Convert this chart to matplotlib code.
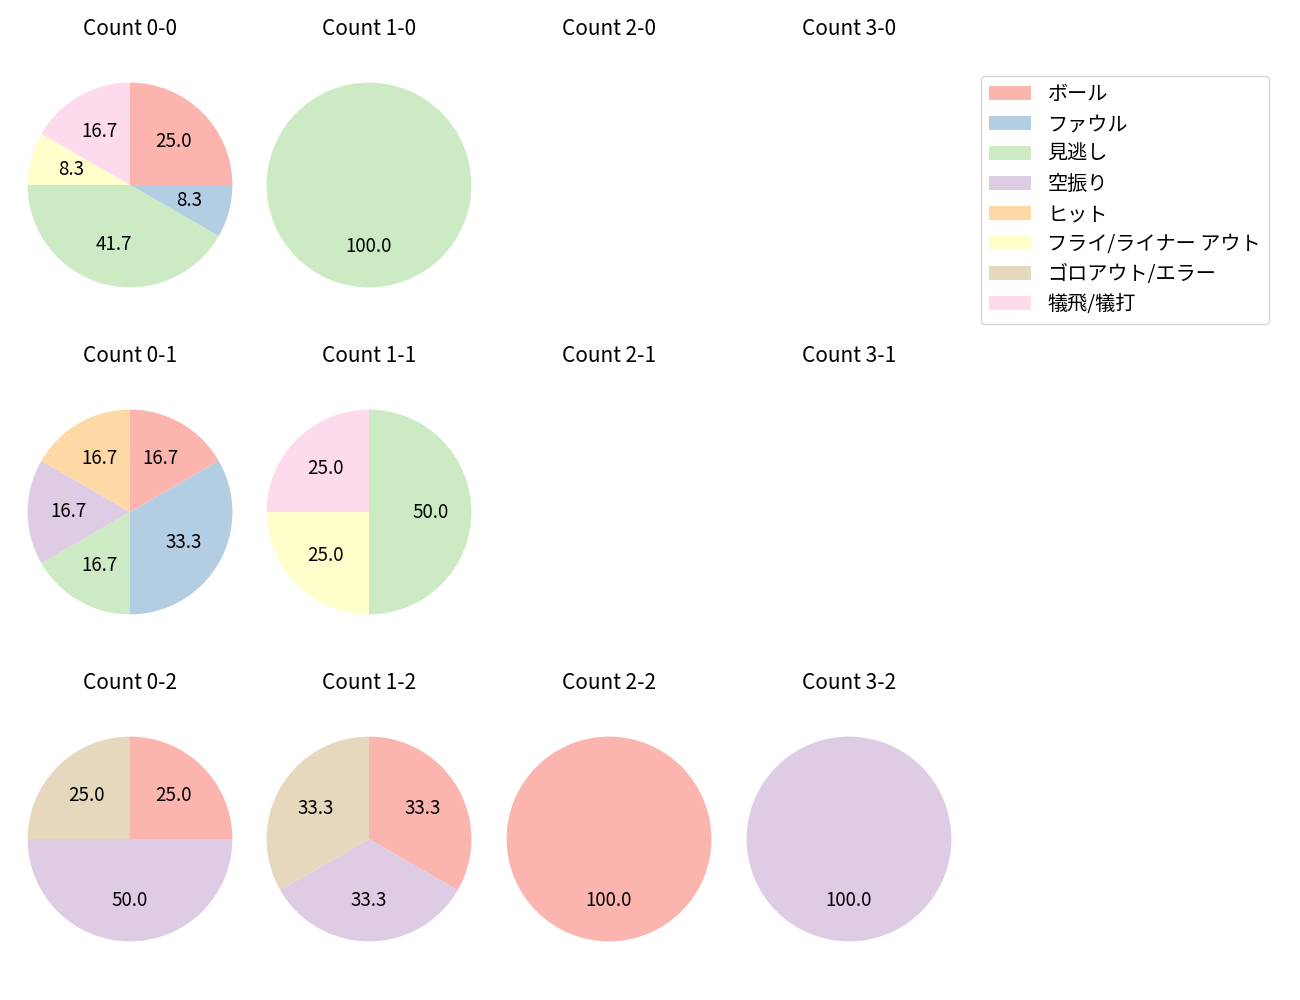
import matplotlib
matplotlib.use("Agg")
import matplotlib.pyplot as plt
from matplotlib.patches import Patch

plt.rcParams['font.family'] = ['Noto Sans CJK JP', 'DejaVu Sans']

categories = ["ボール", "ファウル", "見逃し", "空振り", "ヒット",
              "フライ/ライナー アウト", "ゴロアウト/エラー", "犠飛/犠打"]
colors = ["#fbb4ae", "#b3cde3", "#ccebc5", "#decbe4", "#fed9a6",
          "#ffffcc", "#e5d8bd", "#fddaec"]

# counts per ball-strike count, in category order
count_0_0 = [3, 1, 5, 0, 0, 1, 0, 2]
count_1_0 = [0, 0, 1, 0, 0, 0, 0, 0]
count_2_0 = [0, 0, 0, 0, 0, 0, 0, 0]
count_3_0 = [0, 0, 0, 0, 0, 0, 0, 0]
count_0_1 = [1, 2, 1, 1, 1, 0, 0, 0]
count_1_1 = [0, 0, 2, 0, 0, 1, 0, 1]
count_2_1 = [0, 0, 0, 0, 0, 0, 0, 0]
count_3_1 = [0, 0, 0, 0, 0, 0, 0, 0]
count_0_2 = [1, 0, 0, 2, 0, 0, 1, 0]
count_1_2 = [1, 0, 0, 1, 0, 0, 1, 0]
count_2_2 = [1, 0, 0, 0, 0, 0, 0, 0]
count_3_2 = [0, 0, 0, 1, 0, 0, 0, 0]

grid = [
    [("0-0", count_0_0), ("1-0", count_1_0), ("2-0", count_2_0), ("3-0", count_3_0)],
    [("0-1", count_0_1), ("1-1", count_1_1), ("2-1", count_2_1), ("3-1", count_3_1)],
    [("0-2", count_0_2), ("1-2", count_1_2), ("2-2", count_2_2), ("3-2", count_3_2)],
]

W, H = 1300, 1000
fig = plt.figure(figsize=(13, 10), dpi=100)

side = 256
cxs = [130, 369, 609, 849]
cys = [185, 512, 839]

for r, row in enumerate(grid):
    for c, (name, vals) in enumerate(row):
        cx, cy = cxs[c], cys[r]
        ax = fig.add_axes([(cx - side / 2) / W, 1 - (cy + side / 2) / H, side / W, side / H])
        ax.set_title(f"Count {name}", fontsize=15, pad=15.5)
        total = sum(vals)
        if total > 0:
            v = [x for x in vals if x > 0]
            col = [colors[i] for i, x in enumerate(vals) if x > 0]
            ax.pie(v, colors=col, startangle=90, counterclock=False,
                   autopct="%.1f", textprops={"fontsize": 13.5})
            ax.set_xlim(-1.25, 1.25)
            ax.set_ylim(-1.25, 1.25)
        else:
            ax.axis("off")

handles = [Patch(facecolor=colors[i], label=categories[i]) for i in range(len(categories))]
fig.legend(handles=handles, loc="upper left", bbox_to_anchor=(981 / W, 1 - 76 / H),
           fontsize=14.5, handlelength=2.1, labelspacing=0.45, borderaxespad=0)

fig.savefig("out.png", dpi=100)
